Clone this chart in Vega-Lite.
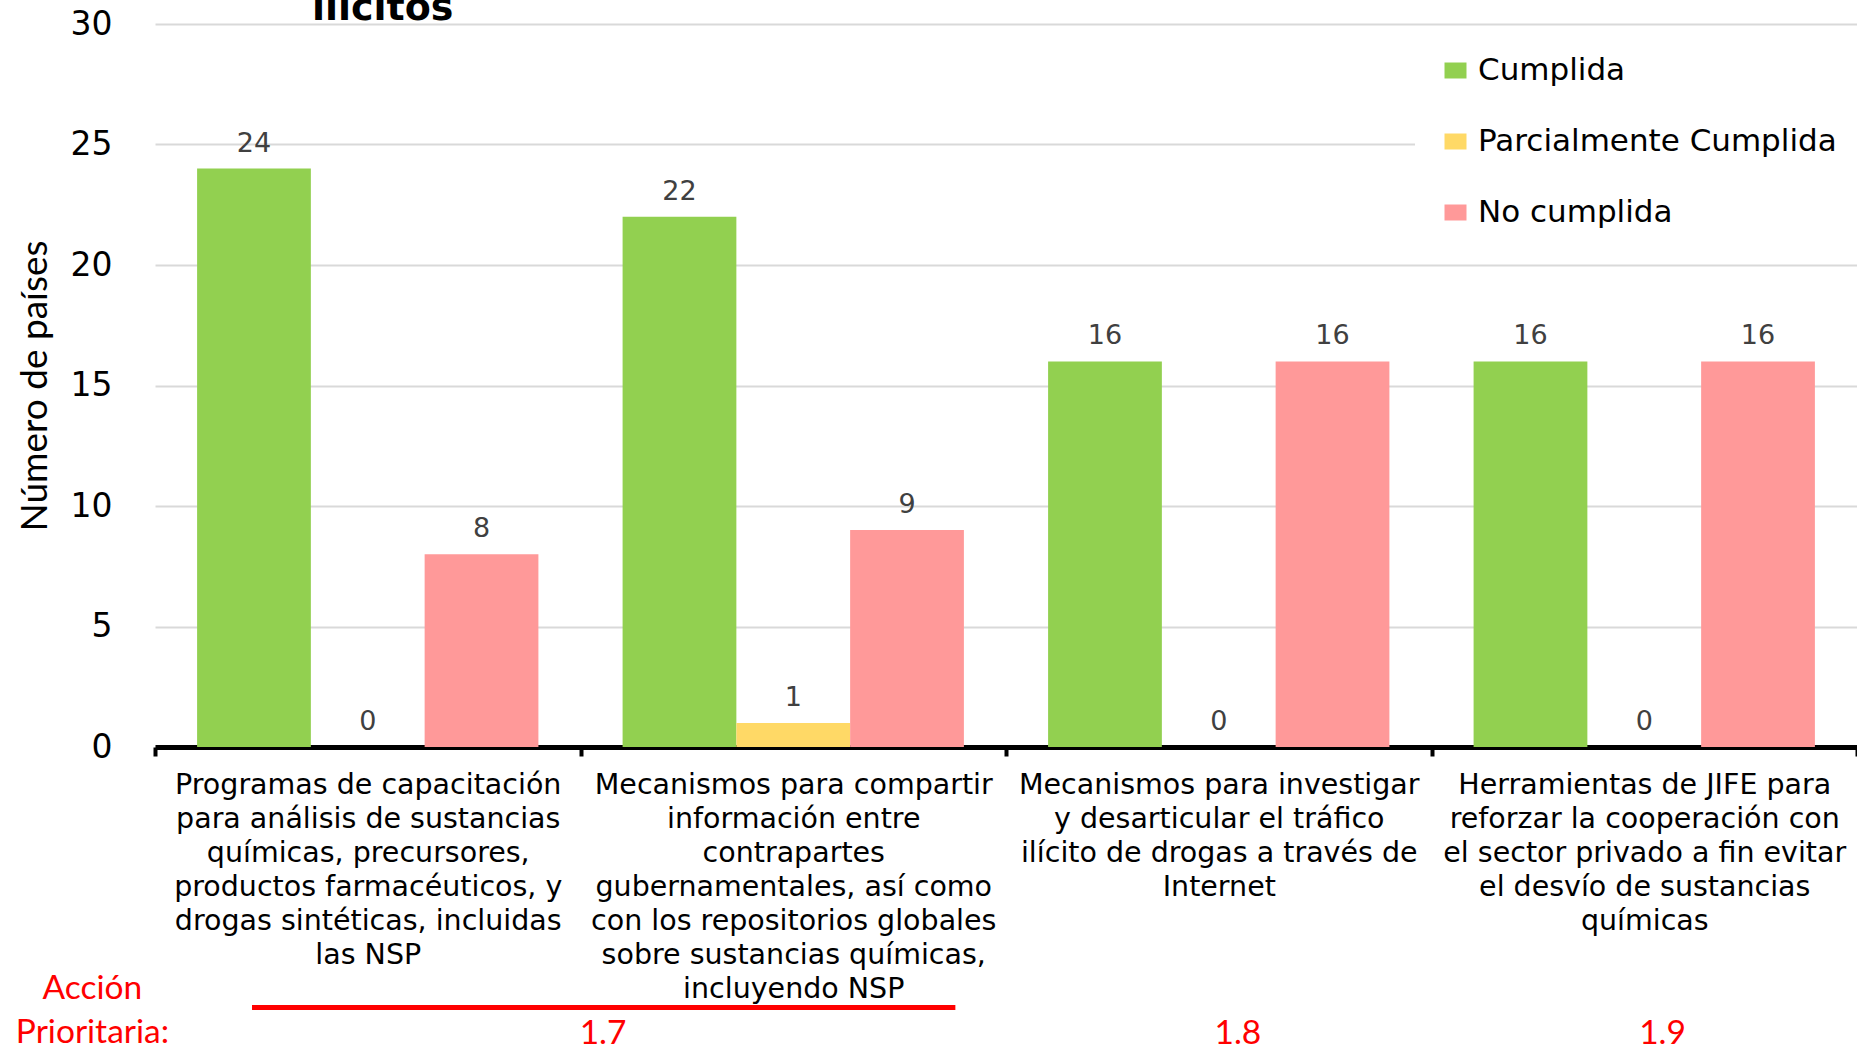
{
  "$schema": "https://vega.github.io/schema/vega-lite/v6.json",
  "width": 1702,
  "height": 723,
  "autosize": {"type": "none"},
  "padding": {"left": 155, "top": 24, "right": 0, "bottom": 300},
  "background": "white",
  "config": {"view": {"stroke": null}},
  "data": {"values": [
    {"accion": "Programas de capacitación\npara análisis de sustancias\nquímicas, precursores,\nproductos farmacéuticos, y\ndrogas sintéticas, incluidas\nlas NSP", "estado": "Cumplida", "paises": 24},
    {"accion": "Programas de capacitación\npara análisis de sustancias\nquímicas, precursores,\nproductos farmacéuticos, y\ndrogas sintéticas, incluidas\nlas NSP", "estado": "Parcialmente Cumplida", "paises": 0},
    {"accion": "Programas de capacitación\npara análisis de sustancias\nquímicas, precursores,\nproductos farmacéuticos, y\ndrogas sintéticas, incluidas\nlas NSP", "estado": "No cumplida", "paises": 8},
    {"accion": "Mecanismos para compartir\ninformación entre\ncontrapartes\ngubernamentales, así como\ncon los repositorios globales\nsobre sustancias químicas,\nincluyendo NSP", "estado": "Cumplida", "paises": 22},
    {"accion": "Mecanismos para compartir\ninformación entre\ncontrapartes\ngubernamentales, así como\ncon los repositorios globales\nsobre sustancias químicas,\nincluyendo NSP", "estado": "Parcialmente Cumplida", "paises": 1},
    {"accion": "Mecanismos para compartir\ninformación entre\ncontrapartes\ngubernamentales, así como\ncon los repositorios globales\nsobre sustancias químicas,\nincluyendo NSP", "estado": "No cumplida", "paises": 9},
    {"accion": "Mecanismos para investigar\ny desarticular el tráfico\nilícito de drogas a través de\nInternet", "estado": "Cumplida", "paises": 16},
    {"accion": "Mecanismos para investigar\ny desarticular el tráfico\nilícito de drogas a través de\nInternet", "estado": "Parcialmente Cumplida", "paises": 0},
    {"accion": "Mecanismos para investigar\ny desarticular el tráfico\nilícito de drogas a través de\nInternet", "estado": "No cumplida", "paises": 16},
    {"accion": "Herramientas de JIFE para\nreforzar la cooperación con\nel sector privado a fin evitar\nel desvío de sustancias\nquímicas", "estado": "Cumplida", "paises": 16},
    {"accion": "Herramientas de JIFE para\nreforzar la cooperación con\nel sector privado a fin evitar\nel desvío de sustancias\nquímicas", "estado": "Parcialmente Cumplida", "paises": 0},
    {"accion": "Herramientas de JIFE para\nreforzar la cooperación con\nel sector privado a fin evitar\nel desvío de sustancias\nquímicas", "estado": "No cumplida", "paises": 16}
  ]},
  "layer": [
    {
      "encoding": {
        "x": {"field": "accion", "type": "nominal", "sort": null, "title": null,
          "scale": {"paddingInner": 0, "paddingOuter": 0},
          "axis": {"domainColor": "black", "domainWidth": 5, "tickColor": "black", "tickWidth": 4, "tickSize": 9, "tickBand": "extent",
            "labelExpr": "split(datum.label, '\\n')", "labelFont": "DejaVu Sans", "labelFontSize": 28.5, "labelColor": "black",
            "labelLineHeight": 34, "labelPadding": 14, "labelAngle": 0, "labelLimit": 0, "labelOverlap": false, "labelBound": false,
            "labelBaseline": "top", "grid": false}},
        "xOffset": {"field": "estado", "type": "nominal", "sort": ["Cumplida", "Parcialmente Cumplida", "No cumplida"],
          "scale": {"paddingInner": 0, "paddingOuter": 0.37}},
        "y": {"field": "paises", "type": "quantitative", "title": "Número de países",
          "scale": {"domain": [0, 30], "nice": false},
          "axis": {"values": [0, 5, 10, 15, 20, 25, 30], "domain": false, "ticks": false, "grid": true, "gridColor": "#d9d9d9", "gridWidth": 2,
            "labelFont": "DejaVu Sans", "labelFontSize": 33, "labelColor": "black", "labelPadding": 43,
            "titleFont": "Lato", "titleFontSize": 37, "titleFontWeight": "normal", "titleColor": "black", "titlePadding": 16}}
      },
      "layer": [
        {"mark": {"type": "bar"},
         "encoding": {
           "color": {"field": "estado", "type": "nominal",
             "scale": {"domain": ["Cumplida", "Parcialmente Cumplida", "No cumplida"], "range": ["#92D050", "#FFD966", "#FF9999"]},
             "legend": {"title": null, "orient": "none", "legendX": 1260, "legendY": 6, "padding": 25, "fillColor": "white",
               "labelFont": "DejaVu Sans", "labelFontSize": 31, "labelColor": "black", "labelLimit": 0,
               "symbolType": "M-1,-0.727L1,-0.727L1,0.727L-1,0.727Z", "symbolSize": 484, "symbolStrokeWidth": 0, "symbolOpacity": 1,
               "rowPadding": 39, "labelOffset": 7}}
         }},
        {"mark": {"type": "text", "dy": -17, "baseline": "alphabetic", "align": "center", "font": "DejaVu Sans", "fontSize": 27, "color": "#404040"},
         "encoding": {"text": {"field": "paises", "type": "quantitative"}}}
      ]
    },
    {
      "data": {"values": [{}]},
      "layer": [
        {"mark": {"type": "text", "text": "ilícitos", "color": "black", "font": "DejaVu Sans", "fontSize": 38, "fontWeight": "bold", "align": "center", "baseline": "alphabetic"},
         "encoding": {
           "x": {"datum": 0.535, "type": "quantitative", "scale": {"domain": [0, 4], "nice": false, "zero": false}, "axis": null},
           "y": {"datum": 30.17, "type": "quantitative", "scale": {"domain": [0, 30], "nice": false}, "axis": null}}},
        {"mark": {"type": "rule", "color": "#FF0000", "strokeWidth": 5},
         "encoding": {
           "x": {"datum": 0.228, "type": "quantitative", "scale": {"domain": [0, 4], "nice": false, "zero": false}, "axis": null},
           "x2": {"datum": 1.881},
           "y": {"datum": -10.81, "type": "quantitative", "scale": {"domain": [0, 30], "nice": false}, "axis": null}}},
        {"mark": {"type": "text", "text": ["Acción", "Prioritaria:"], "color": "#FF0000", "font": "Lato", "fontSize": 33.5, "align": "center", "baseline": "alphabetic", "lineHeight": 44},
         "encoding": {
           "x": {"datum": -0.147, "type": "quantitative", "scale": {"domain": [0, 4], "nice": false, "zero": false}, "axis": null},
           "y": {"datum": -10.46, "type": "quantitative", "scale": {"domain": [0, 30], "nice": false}, "axis": null}}},
        {"mark": {"type": "text", "text": "1.7", "color": "#FF0000", "font": "Lato", "fontSize": 33.5, "align": "center", "baseline": "alphabetic"},
         "encoding": {
           "x": {"datum": 1.053, "type": "quantitative", "scale": {"domain": [0, 4], "nice": false, "zero": false}, "axis": null},
           "y": {"datum": -12.33, "type": "quantitative", "scale": {"domain": [0, 30], "nice": false}, "axis": null}}},
        {"mark": {"type": "text", "text": "1.8", "color": "#FF0000", "font": "Lato", "fontSize": 33.5, "align": "center", "baseline": "alphabetic"},
         "encoding": {
           "x": {"datum": 2.545, "type": "quantitative", "scale": {"domain": [0, 4], "nice": false, "zero": false}, "axis": null},
           "y": {"datum": -12.33, "type": "quantitative", "scale": {"domain": [0, 30], "nice": false}, "axis": null}}},
        {"mark": {"type": "text", "text": "1.9", "color": "#FF0000", "font": "Lato", "fontSize": 33.5, "align": "center", "baseline": "alphabetic"},
         "encoding": {
           "x": {"datum": 3.543, "type": "quantitative", "scale": {"domain": [0, 4], "nice": false, "zero": false}, "axis": null},
           "y": {"datum": -12.33, "type": "quantitative", "scale": {"domain": [0, 30], "nice": false}, "axis": null}}}
      ]
    }
  ],
  "resolve": {"scale": {"x": "independent", "y": "independent"}}
}
